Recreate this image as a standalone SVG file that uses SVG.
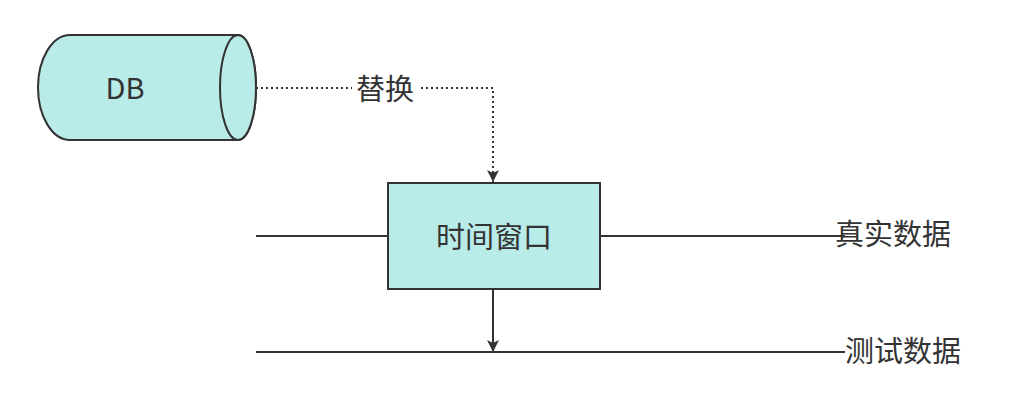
<svg xmlns="http://www.w3.org/2000/svg" width="1030" height="417" viewBox="0 0 1030 417">
<style>
text{font-family:"Noto Sans CJK SC","Liberation Sans",sans-serif;font-size:29px;fill:#333}
.n{fill:#b9ebe8;stroke:#333;stroke-width:2}
.l{stroke:#333;stroke-width:2;fill:none}
</style>
<defs>
<marker id="b" markerWidth="12" markerHeight="16" refX="12" refY="6" orient="auto" markerUnits="userSpaceOnUse"><path d="M0,0 L12,6 L0,12 L3,6 Z" fill="#333"/></marker></defs>
<g id="connectors">
<path class="l" d="M256,88 H493 V182" stroke-dasharray="2,3" marker-end="url(#b)"/>
<path class="l" d="M256,236 H388 M600,236 H845"/>
<path class="l" d="M256,352 H845"/>
<path class="l" d="M493,289 V352" marker-end="url(#b)"/>
<rect x="352" y="74" width="66" height="30" fill="#fff"/>
<text x="385" y="100" text-anchor="middle">替换</text>
</g>
<g id="db">
<path class="n" d="M238,35 H70 A32,52.5 0 0 0 70,140 H238 A18,52.5 0 0 0 238,35 Z"/>
<ellipse class="n" cx="238" cy="87.5" rx="18" ry="52.5"/>
<text x="125" y="99" text-anchor="middle">DB</text>
</g>
<g id="window">
<rect class="n" x="388" y="183" width="212" height="106"/>
<text x="494" y="248" text-anchor="middle">时间窗口</text>
</g>
<g id="real"><text x="835" y="245">真实数据</text></g>
<g id="test"><text x="845" y="362">测试数据</text></g>
</svg>
